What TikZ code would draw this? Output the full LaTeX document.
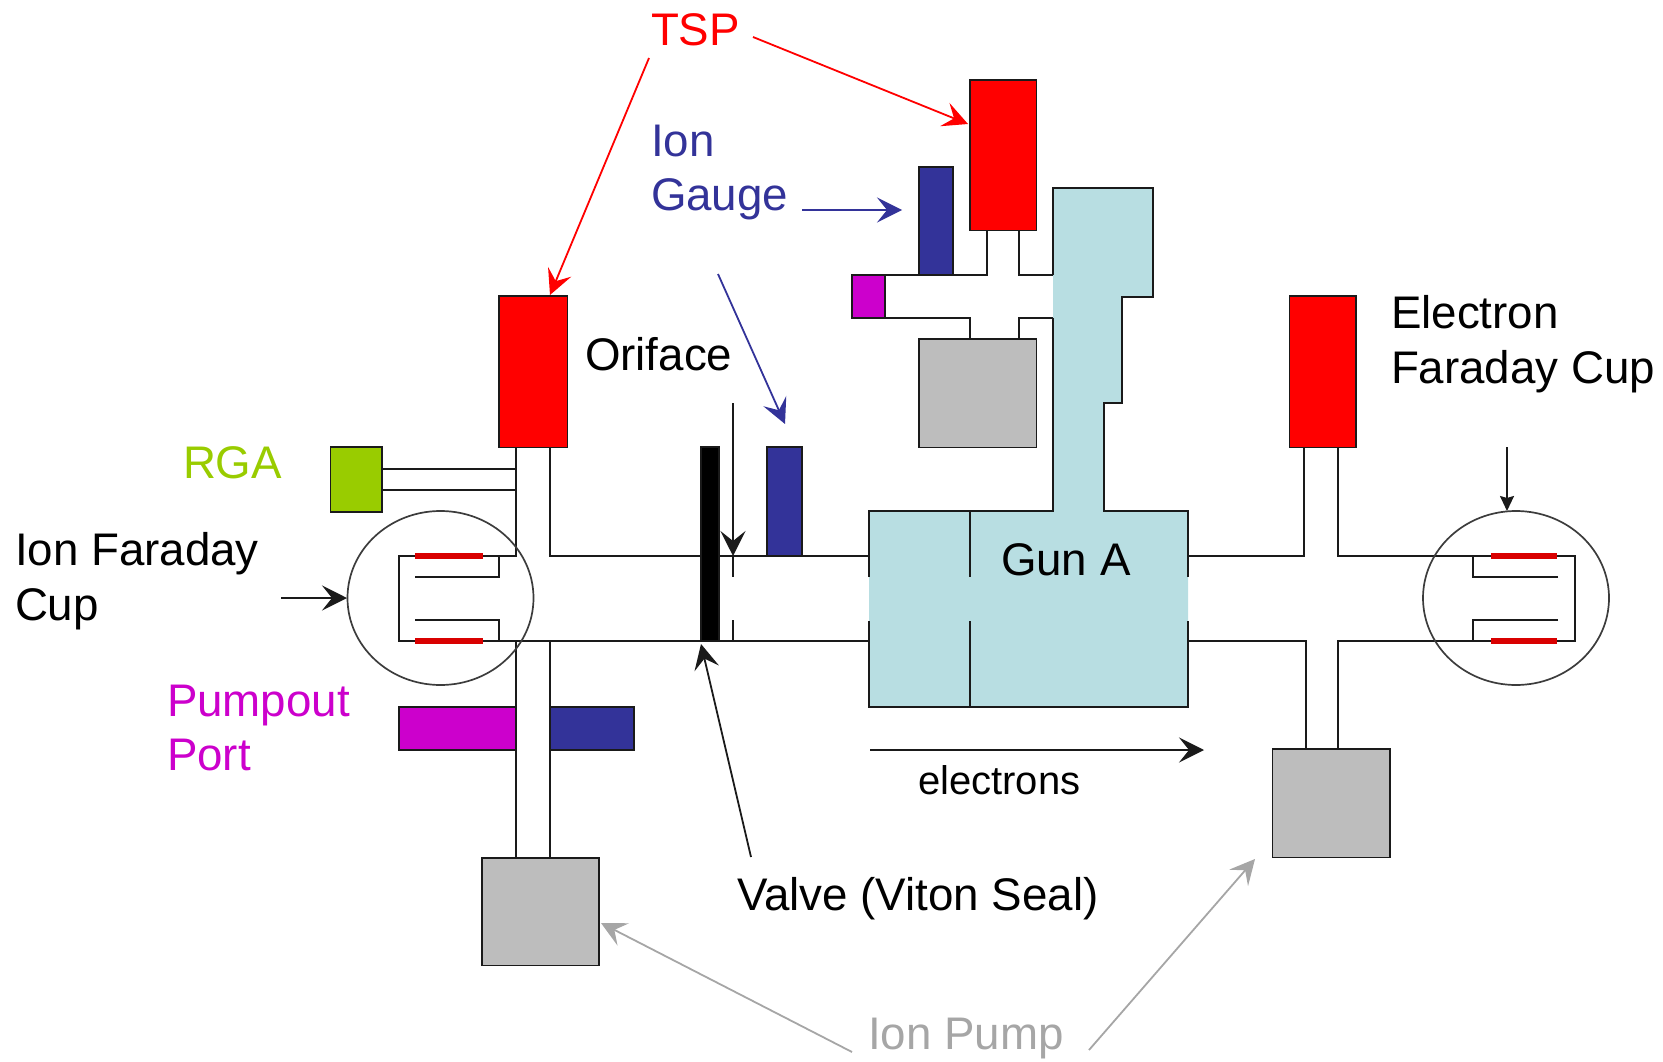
\documentclass[tikz,border=0pt]{standalone}
\usepackage{fontspec}
\setmainfont{Liberation Sans}
\usetikzlibrary{arrows.meta,shapes.geometric}
\definecolor{cRed}{HTML}{FF0000}
\definecolor{cBlue}{HTML}{333399}
\definecolor{cMag}{HTML}{CC00CC}
\definecolor{cGreen}{HTML}{99CC00}
\definecolor{cGray}{HTML}{BDBDBD}
\definecolor{cGun}{HTML}{B8DEE2}
\definecolor{cPump}{HTML}{A6A6A6}
\definecolor{cLine}{HTML}{1A1A1A}
\newcommand{\bx}[6]{%
  \pgfmathsetmacro{\bw}{#4-#2}\pgfmathsetmacro{\bh}{#5-#3}%
  \node[partbox,fill=#6,minimum width=\bw pt,minimum height=\bh pt] (#1) at ({(#2+#4)/2},{(#3+#5)/2}) {};}
\tikzset{
  partbox/.style={draw=cLine,line width=1.9pt,inner sep=0pt,outer sep=0pt,rectangle},
  tube/.style={draw=cLine,line width=1.9pt,line join=miter},
  lens/.style={draw=cLine!85!white,line width=1.7pt,ellipse,inner sep=0pt,outer sep=0pt,minimum width=186pt,minimum height=174pt},
  plate/.style={draw=red!85!black,line width=5.5pt},
  lab/.style={anchor=base west,inner sep=0pt,outer sep=0pt,font=\fontsize{45.7}{46}\selectfont},
  tip/.style={-{Stealth[length=25pt,width=25pt,inset=10pt]},line width=1.8pt},
  smalltip/.style={-{Stealth[length=15pt,width=14pt,inset=2pt]},line width=1.9pt},
}
\begin{document}
\begin{tikzpicture}[x=1pt,y=-1pt]
\useasboundingbox (0,0) rectangle (1663,1062);
% gun body
\fill[cGun] (869,511) -- (1053,511) -- (1053,188) -- (1153,188) -- (1153,297) -- (1122,297) -- (1122,403) -- (1104,403) -- (1104,511) -- (1188,511) -- (1188,707) -- (869,707) -- cycle;
\draw[tube] (869,577) -- (869,511) -- (1053,511) -- (1053,318);
\draw[tube] (1053,275) -- (1053,188) -- (1153,188) -- (1153,297) -- (1122,297) -- (1122,403) -- (1104,403) -- (1104,511) -- (1188,511) -- (1188,577);
\draw[tube] (869,621) -- (869,707) -- (1188,707) -- (1188,621);
\draw[tube] (970,511) -- (970,577) (970,621) -- (970,707);
% tubes, left
\draw[tube] (330,469) -- (516,469) (330,490) -- (516,490);
\draw[tube] (516,448) -- (516,556) -- (399,556) -- (399,641) -- (869,641);
\draw[tube] (550,448) -- (550,556) -- (869,556);
\draw[tube] (415,577) -- (499,577) -- (499,556);
\draw[tube] (415,620) -- (499,620) -- (499,641);
\draw[tube] (516,641) -- (516,858) (550,641) -- (550,858);
\draw[tube] (733,620) -- (733,641);
% tubes, top
\draw[tube] (885,275) -- (987,275) -- (987,231);
\draw[tube] (1053,275) -- (1019,275) -- (1019,231);
\draw[tube] (885,318) -- (970,318) -- (970,339);
\draw[tube] (1053,318) -- (1019,318) -- (1019,339);
% tubes, right
\draw[tube] (1188,556) -- (1304,556) -- (1304,448);
\draw[tube] (1338,448) -- (1338,556) -- (1575,556) -- (1575,641) -- (1338,641) -- (1338,749);
\draw[tube] (1188,641) -- (1306,641) -- (1306,749);
\draw[tube] (1558,577) -- (1473,577) -- (1473,556);
\draw[tube] (1558,620) -- (1473,620) -- (1473,641);
% circles
\node[lens] (lensL) at (440.5,598) {};
\node[lens] (lensR) at (1516,598) {};
% plates
\draw[plate] (415,556) -- (483,556) (415,641) -- (483,641);
\draw[plate] (1491,556) -- (1557,556) (1491,641) -- (1557,641);
% parts
\bx{tspL}{499}{296}{567.5}{447.5}{cRed}
\bx{tspT}{970}{80}{1036.5}{230.5}{cRed}
\bx{efc}{1289.5}{296}{1356}{447.5}{cRed}
\bx{gaugeT}{919}{167}{953}{275}{cBlue}
\bx{gaugeM}{767}{447}{802}{556}{cBlue}
\bx{gaugeB}{550}{707}{634}{750}{cBlue}
\bx{pumpoutT}{852}{275}{885}{318}{cMag}
\bx{pumpoutL}{399}{707}{516}{750}{cMag}
\bx{rgabox}{330.5}{447}{382}{512}{cGreen}
\bx{pumpT}{919}{339}{1036.5}{447.5}{cGray}
\bx{pumpL}{482}{858}{599}{965.5}{cGray}
\bx{pumpR}{1272.5}{749}{1390}{857.5}{cGray}
\bx{valvebar}{701}{447}{719}{641}{black}
% labels
\node[lab,text=cRed] (tsp) at (651,46) {TSP};
\node[lab,text=cBlue] (ion) at (651,156.5) {Ion};
\node[lab,text=cBlue] (gauge) at (651,210.5) {Gauge};
\node[lab] (oriface) at (585,370) {Oriface};
\node[lab,text=cGreen] (rga) at (183,478.5) {RGA};
\node[lab] (ifc1) at (15,565.5) {Ion Faraday};
\node[lab] (ifc2) at (15,620) {Cup};
\node[lab,text=cMag] (po1) at (167,716) {Pumpout};
\node[lab,text=cMag] (po2) at (167,770) {Port};
\node[lab] (efc1) at (1391,328) {Electron};
\node[lab] (efc2) at (1391,383.5) {Faraday Cup};
\node[lab] (gun) at (1001,575) {Gun A};
\node[lab,font=\fontsize{40}{40}\selectfont] (elec) at (918,794) {electrons};
\node[lab] (valve) at (737,910) {Valve (Viton Seal)};
\node[lab,text=cPump] (ipump) at (868,1049) {Ion Pump};
% arrow ends
\coordinate (a1s) at (649,58);   \coordinate (a1e) at (550,295);
\coordinate (a2s) at (753,37);   \coordinate (a2e) at (968,124);
\coordinate (a3s) at (802,210);  \coordinate (a3e) at (902,210);
\coordinate (a4s) at (718,274);  \coordinate (a4e) at (785,424);
\coordinate (a5s) at (733,403);  \coordinate (a5e) at (733,556);
\coordinate (a6s) at (281,598);  \coordinate (a6e) at (347,598);
\coordinate (a7s) at (751,857);  \coordinate (a7e) at (701,644);
\coordinate (a8s) at (1507,447); \coordinate (a8e) at (1507,511);
\coordinate (a9s) at (870,750);  \coordinate (a9e) at (1204,750);
\coordinate (a10s) at (852,1052); \coordinate (a10e) at (601,923);
\coordinate (a11s) at (1089,1050); \coordinate (a11e) at (1255,859);
\draw[tip,cRed] (a1s) -- (a1e);
\draw[tip,cRed] (a2s) -- (a2e);
\draw[tip,cBlue] (a3s) -- (a3e);
\draw[tip,cBlue] (a4s) -- (a4e);
\draw[tip,cLine] (a5s) -- (a5e);
\draw[tube] (a5e) -- (733,577);
\draw[tip,cLine] (a6s) -- (a6e);
\draw[tip,cLine] (a7s) -- (a7e);
\draw[smalltip,cLine] (a8s) -- (a8e);
\draw[tip,cLine] (a9s) -- (a9e);
\draw[tip,cPump] (a10s) -- (a10e);
\draw[tip,cPump] (a11s) -- (a11e);
\end{tikzpicture}
\end{document}
